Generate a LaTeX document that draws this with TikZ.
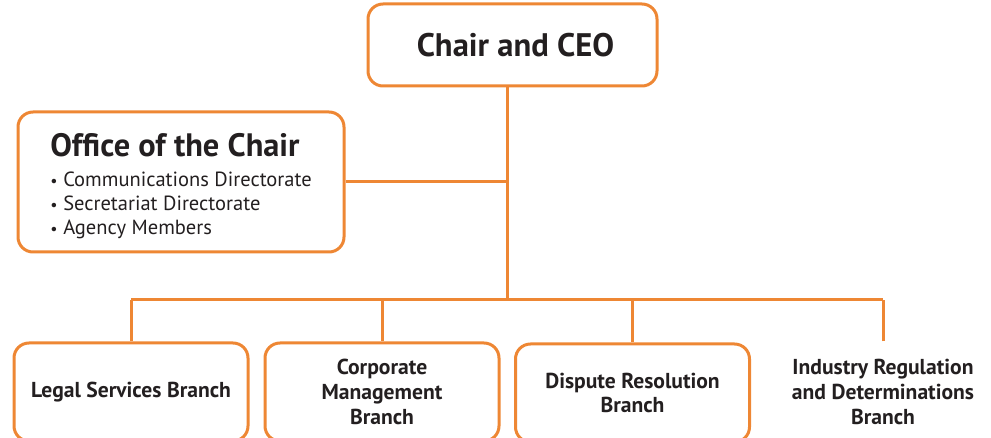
\documentclass[tikz,border=0pt]{standalone}
\usepackage{fontspec}
\setmainfont{PT Sans}
\usetikzlibrary{positioning, calc}
\definecolor{orgline}{RGB}{238,135,52}
\definecolor{orgtext}{RGB}{35,31,32}
\newcommand{\orgitem}{\makebox[6.5pt][l]{\raisebox{0.3pt}{\footnotesize\textbullet}}}

\begin{document}
\begin{tikzpicture}[x=0.5pt, y=-0.5pt,
    orgbox/.style={draw=orgline, line width=1.5pt, rounded corners=7.5pt, fill=white, text=orgtext},
    branchbox/.style={orgbox, minimum width=117pt, minimum height=49pt, align=center, font=\fontsize{10.8}{12.3}\selectfont\bfseries},
    link/.style={draw=orgline, line width=1.5pt}]
                \useasboundingbox (0,0) rectangle (991,438);
                \clip (0,0) rectangle (991,438);

                % Top box
                \node[orgbox, minimum width=144.5pt, minimum height=41pt, font=\fontsize{16.3}{19}\selectfont\bfseries] (chair) at (512.5,45) {\hspace{3pt}Chair and CEO};

                % Office box
                \node[orgbox, minimum width=163pt, minimum height=70pt, align=left, inner xsep=16pt] (office) at (181,182)
                    {{\fontsize{16.2}{19}\selectfont\bfseries\rule{0pt}{16pt}Office of the Chair}\\[3pt]
                     \fontsize{10.25}{12}\selectfont\orgitem Communications Directorate\\
                     \fontsize{10.25}{12}\selectfont\orgitem Secretariat Directorate\\
                     \fontsize{10.25}{12}\selectfont\orgitem Agency Members};

                % Branches
                \node[branchbox] (legal) at (131,392) {Legal Services Branch};
                \node[branchbox] (corporate) at (382,392) {Corporate\\Management\\Branch};
                \node[branchbox] (dispute) at (632.5,393) {Dispute Resolution\\Branch};
                \node[branchbox, draw=none, fill=none] (industry) at (883,392) {Industry Regulation\\and Determinations\\Branch};

                % Connectors
                \coordinate (bus) at (507,300);
                \draw[link] (chair.south -| bus) -- (bus);
                \draw[link] (office.east) -- (office.east -| bus);
                \draw[link] (legal.north |- bus) -- (industry.north |- bus);
                \foreach \b in {legal,corporate,dispute,industry}
                    \draw[link] (\b.north) -- (\b.north |- bus);
            \end{tikzpicture}
\end{document}
